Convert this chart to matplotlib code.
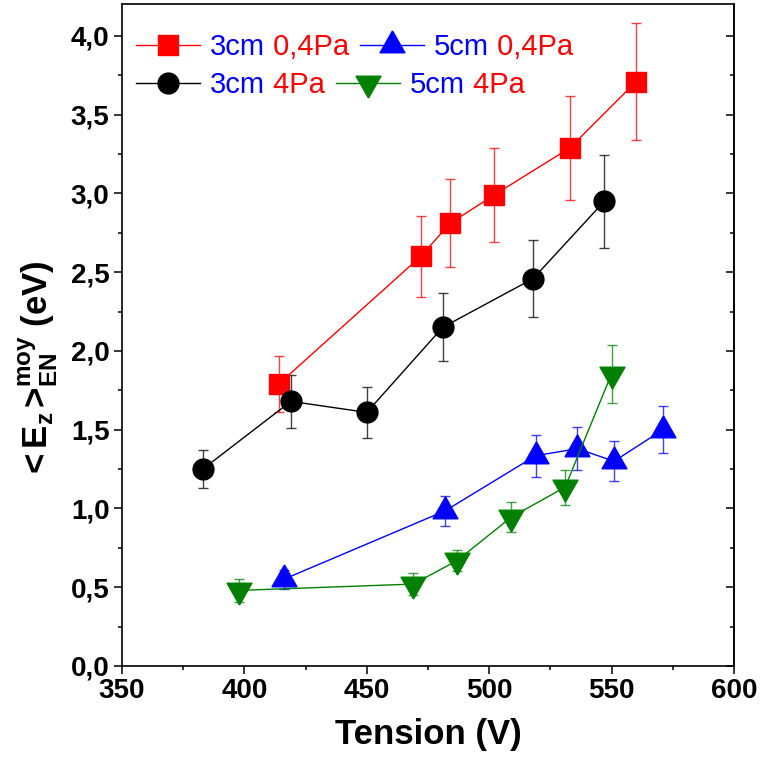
import matplotlib
matplotlib.use('Agg')
import matplotlib.pyplot as plt
from matplotlib.legend import Legend
from matplotlib.lines import Line2D
from matplotlib.ticker import MultipleLocator, FuncFormatter

plt.rcParams['font.family'] = 'Liberation Sans'
plt.rcParams['mathtext.fontset'] = 'custom'
plt.rcParams['mathtext.rm'] = 'Liberation Sans:bold'
plt.rcParams['mathtext.bf'] = 'Liberation Sans:bold'
plt.rcParams['mathtext.default'] = 'bf'

# 3cm 0,4Pa (red squares)
x_3cm_04 = [414, 472, 484, 502, 533, 560]
y_3cm_04 = [1.79, 2.60, 2.81, 2.99, 3.29, 3.71]
e_3cm_04 = [0.18, 0.26, 0.28, 0.30, 0.33, 0.37]

# 3cm 4Pa (black circles)
x_3cm_4 = [383, 419, 450, 481, 518, 547]
y_3cm_4 = [1.25, 1.68, 1.61, 2.15, 2.46, 2.95]
e_3cm_4 = [0.12, 0.17, 0.16, 0.215, 0.245, 0.295]

# 5cm 0,4Pa (blue triangles)
x_5cm_04 = [416, 482, 519, 536, 551, 571]
y_5cm_04 = [0.55, 0.985, 1.335, 1.38, 1.30, 1.50]
e_5cm_04 = [0.062, 0.095, 0.132, 0.137, 0.127, 0.148]

# 5cm 4Pa (green down triangles)
x_5cm_4 = [398, 469, 487, 509, 531, 550]
y_5cm_4 = [0.48, 0.52, 0.67, 0.945, 1.135, 1.855]
e_5cm_4 = [0.073, 0.07, 0.067, 0.093, 0.11, 0.183]

# triangles centred on their centroid (as in the original software)
h = 1.76
tri_up = [(0, 2 * h / 3), (-1, -h / 3), (1, -h / 3), (0, 2 * h / 3)]
tri_dn = [(0, -2 * h / 3), (-1, h / 3), (1, h / 3), (0, -2 * h / 3)]

series = [
    (x_3cm_04, y_3cm_04, e_3cm_04, 's', 13.7, '#ff0000', '3cm', '0,4Pa'),
    (x_3cm_4, y_3cm_4, e_3cm_4, 'o', 15, '#000000', '3cm', '4Pa'),
    (x_5cm_04, y_5cm_04, e_5cm_04, tri_up, 21, '#0000ff', '5cm', '0,4Pa'),
    (x_5cm_4, y_5cm_4, e_5cm_4, tri_dn, 21, '#008000', '5cm', '4Pa'),
]

fig = plt.figure(figsize=(7.61, 7.58), dpi=100)
ax = fig.add_axes([0.1603, 0.1214, 0.8042, 0.8727])

handles = []
for x, y, e, m, ms, c, dist, pres in series:
    ecol = matplotlib.colors.to_rgba(c, 0.75)
    ax.errorbar(x, y, yerr=e, fmt='-', marker=m, color=c, ms=ms, lw=1.0,
                ecolor=ecol, elinewidth=1.0, capsize=3.6, capthick=1.0,
                mec=c, mfc=c)
    handles.append(Line2D([], [], color=c, marker=m, ms=ms, lw=1.0))

ax.set_xlim(350, 600)
ax.set_ylim(0, 4.2)
ax.xaxis.set_major_locator(MultipleLocator(50))
ax.xaxis.set_minor_locator(MultipleLocator(25))
ax.yaxis.set_major_locator(MultipleLocator(0.5))
ax.yaxis.set_minor_locator(MultipleLocator(0.25))
ax.yaxis.set_major_formatter(FuncFormatter(lambda v, p: ('%.1f' % v).replace('.', ',')))

for s in ax.spines.values():
    s.set_linewidth(1.2)
ax.tick_params(which='both', direction='out', width=1.1, labelsize=20, pad=3)
ax.tick_params(which='major', length=6)
ax.tick_params(which='minor', length=3)
for lab in ax.get_xticklabels() + ax.get_yticklabels():
    lab.set_fontweight('bold')

# mirrored ticks on the right, pointing inward
ax_r = ax.secondary_yaxis('right')
ax_r.yaxis.set_major_locator(MultipleLocator(0.5))
ax_r.yaxis.set_minor_locator(MultipleLocator(0.25))
ax_r.tick_params(which='both', direction='in', width=1.1, labelright=False)
ax_r.tick_params(which='major', length=6)
ax_r.tick_params(which='minor', length=3)
ax_r.spines['right'].set_linewidth(1.2)

ax.set_xlabel('Tension (V)', fontsize=25, fontweight='bold', labelpad=10)
fig.text(0.05, 0.515, r'<$\,$E$_{z\,}$>$^{moy}_{EN}$$\;$(eV)', rotation=90,
         fontsize=25, fontweight='bold', ha='center', va='center')

# legend: two rows, "3cm"/"5cm" in blue, pressure in red
leg_fs = 21
renderer = fig.canvas.get_renderer()


def text_width(s):
    t = fig.text(0, 0, s, fontsize=leg_fs)
    w = t.get_window_extent(renderer).width
    t.remove()
    return w


fs_px = leg_fs * fig.dpi / 72
rows = [([handles[0], handles[2]], [series[0], series[2]], 0.936),
        ([handles[1], handles[3]], [series[1], series[3]], 0.878)]
for hs, ss, ypos in rows:
    colsp = (text_width(' ' + ss[0][7]) + 11) / fs_px
    leg = Legend(ax, hs, [s[6] for s in ss], ncol=2,
                 loc='center left', bbox_to_anchor=(0.023, ypos),
                 frameon=False, fontsize=leg_fs, borderpad=0, borderaxespad=0,
                 handlelength=2.2, handletextpad=0.33, columnspacing=colsp)
    ax.add_artist(leg)
    for t, s in zip(leg.get_texts(), ss):
        t.set_color('#0000ff')
        ax.annotate(' ' + s[7], xy=(1, 0), xycoords=t, ha='left', va='bottom',
                    fontsize=leg_fs, color='#ff0000', zorder=10)

fig.savefig('out.png', dpi=100)
